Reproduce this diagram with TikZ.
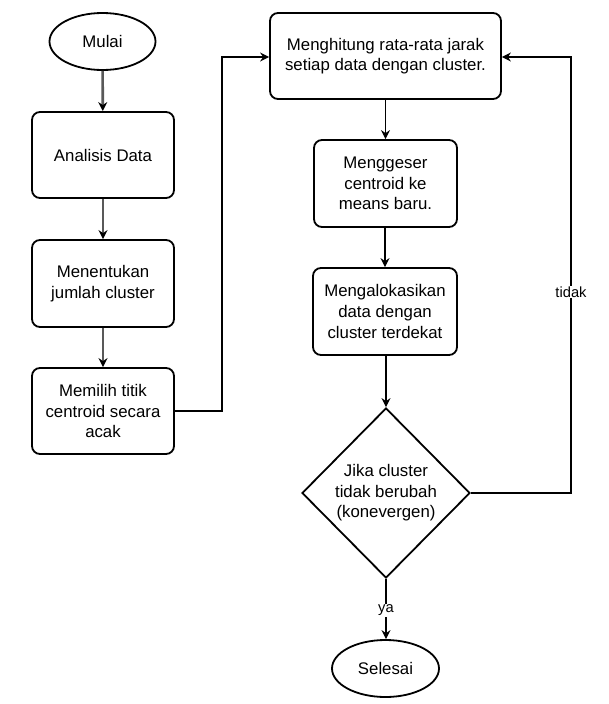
\documentclass[tikz,border=0pt]{standalone}
\usepackage{fontspec}
\setmainfont{Liberation Sans}
\usetikzlibrary{shapes.geometric,arrows.meta}
\begin{document}
\begin{tikzpicture}[x=1pt,y=-1pt,
  txt/.style={align=center,inner sep=0pt,font=\fontsize{16.8}{20.6}\selectfont},
  box/.style={txt,draw,line width=1.8pt,rounded corners=8pt},
  term/.style={txt,draw,line width=1.8pt,ellipse},
  decision/.style={txt,draw,line width=1.8pt,diamond},
  thickarrow/.style={draw=black!65,line width=2.6pt,-{Stealth[length=9pt,width=9pt,inset=3pt,color=black]}},
  thinarrow/.style={draw=black,line width=1.2pt,-{Stealth[length=9pt,width=9pt,inset=3pt]}},
  lbl/.style={fill=white,inner sep=1pt,font=\fontsize{14.7}{17}\selectfont}
]
\useasboundingbox[fill=white] (0,0) rectangle (608,704);

\node[term,minimum width=106pt,minimum height=57pt] (mulai) at (102.5,41.5) {Mulai};
\node[box,minimum width=142pt,minimum height=86pt] (analisis) at (103,155) {Analisis Data};
\node[box,minimum width=142pt,minimum height=87pt] (jumlah) at (103,283.5) {Menentukan\\jumlah cluster};
\node[box,minimum width=142pt,minimum height=86pt] (memilih) at (103,411) {Memilih titik\\centroid secara\\acak};

\node[box,minimum width=231pt,minimum height=86pt] (hitung) at (385.5,56) {Menghitung rata-rata jarak\\setiap data dengan cluster.};
\node[box,minimum width=143pt,minimum height=87pt] (geser) at (385.5,183.5) {Menggeser\\centroid ke\\means baru.};
\node[box,minimum width=144pt,minimum height=87pt] (alokasi) at (385,311.5) {Mengalokasikan\\data dengan\\cluster terdekat};
\node[decision,minimum width=168pt,minimum height=170pt] (cek) at (386,493) {Jika cluster\\tidak berubah\\(konevergen)};
\node[term,minimum width=107pt,minimum height=57pt] (selesai) at (385.5,668.5) {Selesai};

\coordinate (bend1) at (222,411);
\coordinate (bend2) at (222,57);
\coordinate (loop1) at (571,493);
\coordinate (loop2) at (571,57);

\draw[thickarrow] (mulai) -- (analisis);
\draw[thickarrow] (analisis) -- (jumlah);
\draw[thickarrow] (jumlah) -- (memilih);
\draw[thinarrow] (memilih.east) -- (bend1) -- (bend2) -- (hitung.west |- bend2);
\draw[thinarrow] (hitung.south -| geser) -- (geser);
\draw[thinarrow] (geser.south -| alokasi) -- (alokasi);
\draw[thinarrow] (alokasi.south -| cek.north) -- (cek.north);
\draw[thinarrow] (cek.south) -- node[lbl,pos=0.52] (ya) {ya} (selesai.north -| cek.south);
\draw[thinarrow] (cek.east) -- (loop1) -- node[lbl,pos=0.461] (tidak) {tidak} (loop2) -- (hitung.east |- loop2);
\end{tikzpicture}
\end{document}
